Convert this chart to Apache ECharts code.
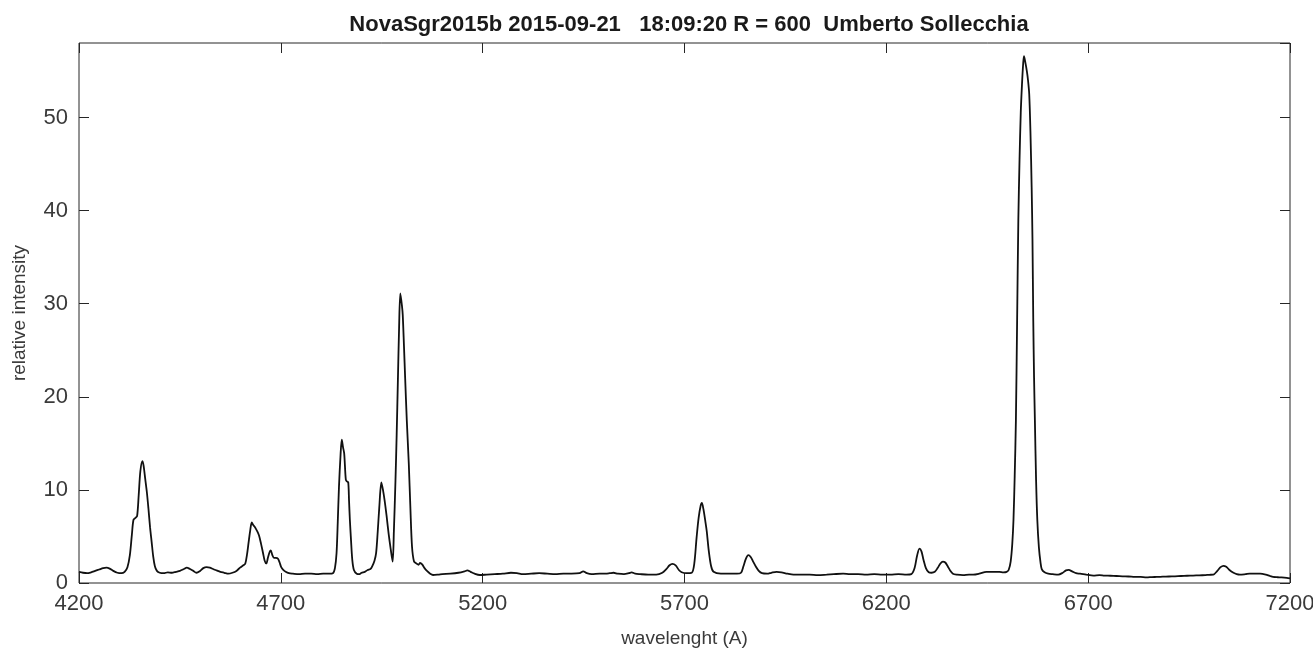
<!DOCTYPE html>
<html>
<head>
<meta charset="utf-8">
<title>NovaSgr2015b spectrum</title>
<script src="https://cdn.jsdelivr.net/npm/echarts@6/dist/echarts.min.js"></script>
<style>
  html, body { margin: 0; padding: 0; background: #fff; }
  #chart { width: 1313px; height: 659px; }
</style>
</head>
<body>
<div id="chart"></div>
<script>
// Spectrum of Nova Sgr 2015b, 2015-09-21 18:09:20, R = 600
const titleText = 'NovaSgr2015b 2015-09-21   18:09:20 R = 600  Umberto Sollecchia';

// wavelength (Angstrom)
const wavelength = [
  4200, 4210, 4220, 4230, 4240, 4250, 4260, 4268, 4276, 4285, 4295, 4305, 4313, 4320, 4326, 4331, 4335, 4340, 4344, 4348,
  4352, 4357, 4360, 4364, 4368, 4372, 4376, 4380, 4384, 4388, 4393, 4400, 4410, 4420, 4430, 4440, 4450, 4460, 4467, 4475,
  4483, 4491, 4500, 4508, 4516, 4524, 4532, 4541, 4550, 4560, 4570, 4580, 4590, 4599, 4607, 4612, 4616, 4620, 4624, 4628,
  4632, 4636, 4641, 4646, 4651, 4656, 4660, 4664, 4668, 4672, 4675, 4679, 4683, 4688, 4693, 4697, 4701, 4706, 4712, 4720,
  4730, 4745, 4760, 4775, 4790, 4805, 4820, 4829, 4834, 4838, 4841, 4844, 4848, 4851, 4854, 4857, 4861, 4864, 4867, 4869,
  4871, 4874, 4877, 4881, 4888, 4895, 4900, 4908, 4915, 4922, 4926, 4932, 4936, 4940, 4944, 4949, 4953, 4957, 4962, 4967,
  4972, 4977, 4980, 4984, 4987, 4990, 4993, 4996, 5000, 5002, 5005, 5008, 5012, 5017, 5021, 5025, 5030, 5036, 5041, 5045,
  5050, 5056, 5062, 5070, 5077, 5090, 5100, 5120, 5140, 5155, 5162, 5170, 5180, 5193, 5210, 5230, 5250, 5270, 5285, 5300,
  5320, 5340, 5360, 5380, 5400, 5420, 5440, 5449, 5458, 5470, 5490, 5505, 5515, 5524, 5535, 5550, 5562, 5569, 5578, 5590,
  5610, 5630, 5645, 5655, 5663, 5670, 5678, 5686, 5693, 5705, 5718, 5724, 5730, 5735, 5740, 5743, 5747, 5751, 5755, 5760,
  5766, 5772, 5790, 5810, 5830, 5840, 5846, 5852, 5858, 5864, 5870, 5877, 5884, 5892, 5905, 5915, 5928, 5940, 5955, 5970,
  5990, 6010, 6030, 6052, 6070, 6093, 6110, 6130, 6150, 6170, 6190, 6210, 6230, 6250, 6262, 6270, 6276, 6282, 6287, 6292,
  6298, 6305, 6312, 6320, 6327, 6334, 6340, 6346, 6352, 6358, 6365, 6375, 6390, 6405, 6415, 6430, 6448, 6465, 6480, 6490,
  6498, 6503, 6508, 6512, 6515, 6518, 6521, 6524, 6527, 6530, 6533, 6536, 6539, 6541, 6544, 6548, 6551, 6554, 6557, 6560,
  6562, 6564, 6566, 6568, 6571, 6574, 6578, 6582, 6585, 6592, 6601, 6612, 6626, 6637, 6645, 6652, 6660, 6670, 6680, 6695,
  6713, 6728, 6740, 6755, 6770, 6785, 6800, 6815, 6830, 6845, 6858, 6870, 6885, 6900, 6915, 6930, 6945, 6960, 6975, 6990,
  7000, 7010, 7020, 7028, 7035, 7042, 7050, 7060, 7068, 7076, 7090, 7100, 7110, 7126, 7140, 7150, 7158, 7170, 7179, 7192,
  7200
];

// relative intensity at each wavelength
const intensity = [
  1.20, 1.10, 1.05, 1.15, 1.30, 1.45, 1.60, 1.65, 1.55, 1.30, 1.10, 1.05, 1.20, 1.70, 3.00, 5.20, 6.80, 7.00, 7.20, 9.50,
  12.0, 13.1, 12.6, 11.2, 9.80, 8.00, 6.00, 4.40, 2.80, 1.80, 1.30, 1.10, 1.05, 1.15, 1.10, 1.20, 1.30, 1.50, 1.65, 1.50,
  1.30, 1.10, 1.30, 1.60, 1.70, 1.65, 1.50, 1.35, 1.20, 1.10, 1.00, 1.10, 1.30, 1.65, 1.90, 2.10, 3.00, 4.30, 5.60, 6.50,
  6.20, 6.00, 5.60, 5.10, 4.20, 3.20, 2.40, 2.10, 2.70, 3.30, 3.50, 3.00, 2.70, 2.70, 2.60, 2.20, 1.70, 1.40, 1.20, 1.05,
  1.00, 0.95, 1.00, 1.00, 0.95, 1.00, 1.00, 1.05, 1.60, 3.20, 6.50, 10.3, 13.8, 15.4, 14.6, 13.9, 11.1, 10.9, 10.8, 8.80,
  6.80, 4.50, 2.50, 1.40, 1.00, 0.95, 1.10, 1.20, 1.40, 1.50, 1.75, 2.40, 3.20, 5.50, 8.20, 10.8, 10.0, 8.90, 7.20, 5.30,
  3.70, 2.30, 5.50, 11.0, 16.0, 21.8, 27.5, 31.1, 29.8, 28.8, 25.5, 22.0, 17.5, 12.8, 8.00, 3.90, 2.30, 2.10, 1.95, 2.15,
  2.00, 1.60, 1.30, 1.00, 0.86, 0.90, 0.95, 1.00, 1.10, 1.25, 1.35, 1.20, 1.00, 0.86, 0.90, 0.95, 1.00, 1.10, 1.05, 0.95,
  1.00, 1.05, 1.00, 0.95, 1.00, 1.00, 1.05, 1.25, 1.05, 0.95, 1.00, 1.00, 1.05, 1.10, 1.00, 0.95, 1.05, 1.15, 1.00, 0.95,
  0.90, 0.90, 1.10, 1.50, 1.90, 2.05, 1.90, 1.40, 1.15, 1.05, 1.10, 2.00, 4.90, 7.00, 8.30, 8.60, 7.90, 6.80, 5.60, 3.50,
  1.80, 1.20, 1.00, 1.00, 1.00, 1.10, 1.80, 2.60, 3.00, 2.80, 2.30, 1.75, 1.30, 1.05, 1.00, 1.10, 1.20, 1.15, 1.00, 0.90,
  0.90, 0.90, 0.85, 0.90, 0.95, 1.00, 0.95, 0.95, 0.90, 0.95, 0.90, 0.90, 0.95, 0.90, 0.95, 1.60, 2.90, 3.70, 3.40, 2.50,
  1.60, 1.15, 1.10, 1.20, 1.60, 2.10, 2.30, 2.20, 1.80, 1.35, 1.00, 0.90, 0.85, 0.90, 0.90, 1.00, 1.20, 1.20, 1.20, 1.15,
  1.20, 1.40, 2.30, 4.20, 6.80, 11.5, 17.5, 28.2, 39.0, 45.5, 50.5, 53.5, 55.8, 56.6, 56.0, 55.0, 54.0, 52.5, 48.5, 42.5,
  37.0, 28.2, 22.0, 17.5, 11.0, 6.80, 3.80, 2.20, 1.50, 1.15, 1.00, 0.95, 0.90, 1.10, 1.35, 1.40, 1.25, 1.05, 1.00, 0.90,
  0.80, 0.85, 0.80, 0.78, 0.75, 0.72, 0.70, 0.66, 0.65, 0.60, 0.64, 0.65, 0.68, 0.70, 0.72, 0.75, 0.78, 0.80, 0.82, 0.85,
  0.88, 0.90, 1.30, 1.70, 1.85, 1.75, 1.40, 1.10, 0.95, 0.90, 0.95, 1.00, 1.00, 1.00, 0.90, 0.75, 0.65, 0.62, 0.60, 0.55,
  0.50
];

// axis ranges and tick steps
const xStart = 4200;
const xEnd = 7200;
const xStep = 500;
const yMin = 0;
const yMax = 58;
const yStep = 10;

const xName = 'wavelenght (A)';
const yName = 'relative intensity';

// the wavelength axis is laid out relative to xStart so its ticks fall on 4200, 4700, ...
const seriesData = wavelength.map((w, i) => [w - xStart, intensity[i]]);

const font = '"Liberation Sans", Arial, Helvetica, sans-serif';
const axisColor = '#262626';
const textColor = '#3a3a3a';

const chart = echarts.init(document.getElementById('chart'), null, { renderer: 'canvas' });

const tickStyle = { show: true, inside: true, length: 10, lineStyle: { color: axisColor, width: 1 } };
const hiddenLine = { show: false, onZero: false };

chart.setOption({
  animation: false,
  backgroundColor: '#ffffff',
  title: {
    text: titleText,
    left: 684,
    textAlign: 'center',
    top: 9,
    textStyle: { fontFamily: font, fontSize: 22, fontWeight: 'bold', color: '#1a1a1a' }
  },
  grid: {
    left: 79, right: 23, top: 43, bottom: 76,
    outerBoundsMode: 'none',
    containLabel: false,
    show: true, borderColor: axisColor, borderWidth: 1, backgroundColor: '#fff'
  },
  xAxis: [
    {
      type: 'value', position: 'bottom',
      min: 0, max: xEnd - xStart, interval: xStep,
      axisLine: hiddenLine,
      axisTick: tickStyle,
      splitLine: { show: false },
      axisLabel: {
        formatter: v => String(v + xStart),
        fontFamily: font, fontSize: 22, color: textColor, margin: 10
      },
      name: xName, nameLocation: 'middle', nameGap: 46,
      nameTextStyle: { fontFamily: font, fontSize: 19, color: textColor }
    },
    {
      type: 'value', position: 'top',
      min: 0, max: xEnd - xStart, interval: xStep,
      axisLine: hiddenLine,
      axisTick: tickStyle,
      splitLine: { show: false },
      axisLabel: { show: false }
    }
  ],
  yAxis: [
    {
      type: 'value', position: 'left',
      min: yMin, max: yMax, interval: yStep,
      axisLine: hiddenLine,
      axisTick: tickStyle,
      splitLine: { show: false },
      axisLabel: {
        showMaxLabel: false,
        fontFamily: font, fontSize: 22, color: textColor, margin: 11
      },
      name: yName, nameLocation: 'middle', nameGap: 50, nameRotate: 90,
      nameTextStyle: { fontFamily: font, fontSize: 19, color: textColor }
    },
    {
      type: 'value', position: 'right',
      min: yMin, max: yMax, interval: yStep,
      axisLine: hiddenLine,
      axisTick: tickStyle,
      splitLine: { show: false },
      axisLabel: { show: false }
    }
  ],
  series: [
    {
      type: 'line',
      xAxisIndex: 0, yAxisIndex: 0,
      data: seriesData,
      showSymbol: false,
      smooth: 0.3,
      lineStyle: { color: '#111111', width: 1.8 }
    }
  ]
});
</script>
</body>
</html>
